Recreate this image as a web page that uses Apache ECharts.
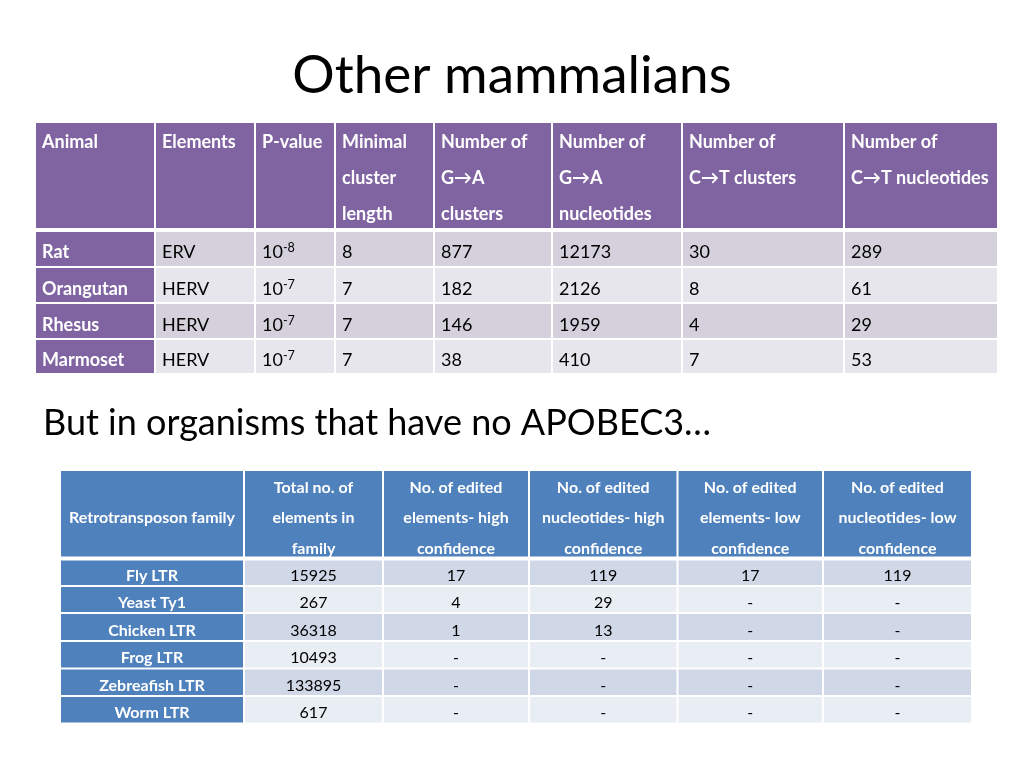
<!DOCTYPE html>
<html>
<head>
<meta charset="utf-8">
<script src="https://cdn.jsdelivr.net/npm/echarts@6/dist/echarts.min.js"></script>
<style>
html,body{margin:0;padding:0;background:#fff;}
#chart{width:1024px;height:768px;}
</style>
</head>
<body>
<div id="chart"></div>
<script>
// ---------- Data ----------
const titleText = 'Other mammalians';
const subtitleText = 'But in organisms that have no APOBEC3\u2026';

// Table 1
const headers1 = ['Animal', 'Elements', 'P-value', 'Minimal\ncluster\nlength', 'Number of\nG\u2192A\nclusters', 'Number of\nG\u2192A\nnucleotides', 'Number of\nC\u2192T clusters', 'Number of\nC\u2192T nucleotides'];
const animals = ['Rat', 'Orangutan', 'Rhesus', 'Marmoset'];
const elements = ['ERV', 'HERV', 'HERV', 'HERV'];
const pValueExponents = [-8, -7, -7, -7];
const minClusterLength = [8, 7, 7, 7];
const gaClusters = [877, 182, 146, 38];
const gaNucleotides = [12173, 2126, 1959, 410];
const ctClusters = [30, 8, 4, 7];
const ctNucleotides = [289, 61, 29, 53];

// Table 2
const headers2 = ['Retrotransposon family', 'Total no. of\nelements in\nfamily', 'No. of edited\nelements- high\nconfidence', 'No. of edited\nnucleotides- high\nconfidence', 'No. of edited\nelements- low\nconfidence', 'No. of edited\nnucleotides- low\nconfidence'];
const families = ['Fly LTR', 'Yeast Ty1', 'Chicken LTR', 'Frog LTR', 'Zebreafish LTR', 'Worm LTR'];
const totalElements = [15925, 267, 36318, 10493, 133895, 617];
const editedElementsHigh = [17, 4, 1, null, null, null];
const editedNucleotidesHigh = [119, 29, 13, null, null, null];
const editedElementsLow = [17, null, null, null, null, null];
const editedNucleotidesLow = [119, null, null, null, null, null];

// ---------- Layout (table geometry in axis units) ----------
const FONT = 'Lato, "Noto Sans", sans-serif';
const colEdges1 = [0, 120, 220, 300, 399, 517, 647, 809, 963];
const rowEdges1 = [0, 108, 145, 181, 217, 252];
const colEdges2 = [0, 184, 323, 469, 617.5, 763, 912];
const rowEdges2 = [0, 88.5, 116, 143, 171, 198.5, 226, 253.5];

const C = {
  purple: '#8064A2', p1: '#D4D1DC', p2: '#E8E6ED',
  blue: '#4F81BD', b1: '#D0D8E8', b2: '#E9EDF4'
};

function fmt(v) { return v === null || v === undefined ? '-' : String(v); }

// Build cell list for table 1
const cells1 = [];
headers1.forEach((h, c) => cells1.push({ c, r: 0, text: h, kind: 'head' }));
animals.forEach((a, i) => {
  const r = i + 1;
  const row = [a, elements[i], '10{sup|' + pValueExponents[i] + '}', minClusterLength[i], gaClusters[i], gaNucleotides[i], ctClusters[i], ctNucleotides[i]];
  row.forEach((v, c) => cells1.push({ c, r, text: String(v), kind: c === 0 ? 'first' : 'body' }));
});

// Build cell list for table 2
const cells2 = [];
headers2.forEach((h, c) => cells2.push({ c, r: 0, text: h, kind: 'head' }));
families.forEach((f, i) => {
  const r = i + 1;
  const row = [f, totalElements[i], editedElementsHigh[i], editedNucleotidesHigh[i], editedElementsLow[i], editedNucleotidesLow[i]];
  row.forEach((v, c) => cells2.push({ c, r, text: c === 0 ? v : fmt(v), kind: c === 0 ? 'first' : 'body' }));
});

function makeRender(cells, colEdges, rowEdges, cfg) {
  return function (params, api) {
    const cell = cells[params.dataIndex];
    const p0 = api.coord([colEdges[cell.c], rowEdges[cell.r]]);
    const p1 = api.coord([colEdges[cell.c + 1], rowEdges[cell.r + 1]]);
    let x = p0[0] + 1, y = p0[1] + 1, w = p1[0] - p0[0] - 2, h = p1[1] - p0[1] - 2;
    if (cell.r === 0) { h -= 1; }
    if (cell.r === 1) { y += 1; h -= 1; }
    let fill;
    if (cell.kind === 'head' || cell.kind === 'first') fill = cfg.dark;
    else fill = cell.r % 2 === 1 ? cfg.l1 : cfg.l2;
    const isWhite = cell.kind !== 'body';
    const bold = cell.kind !== 'body';
    let tx, ty, align, va;
    if (cfg.align === 'left') { tx = p0[0] + cfg.padX; align = 'left'; }
    else { tx = (p0[0] + p1[0]) / 2; align = 'center'; }
    if (cell.kind === 'head' && cfg.headTop) {
      ty = p0[1] + cfg.headTop; va = 'top';
    } else {
      ty = (p0[1] + p1[1]) / 2 + (cell.kind === 'head' ? cfg.headOffset : cfg.bodyOffset); va = 'middle';
    }
    return {
      type: 'group',
      children: [
        { type: 'rect', shape: { x, y, width: w, height: h }, style: { fill } },
        { type: 'text', style: {
            text: cell.text, x: tx, y: ty, align, verticalAlign: va,
            fill: isWhite ? '#fff' : '#000',
            fontFamily: FONT, fontSize: cfg.fontSize, fontWeight: bold ? 'bold' : 'normal',
            lineHeight: cell.kind === 'head' ? cfg.headLine : cfg.fontSize + 4,
            rich: { sup: { fontSize: cfg.fontSize * 0.7, fontFamily: FONT, fill: '#000', verticalAlign: 'top', lineHeight: cfg.fontSize * 0.8 } }
          } }
      ]
    };
  };
}

const chart = echarts.init(document.getElementById('chart'), null, { renderer: 'canvas' });
chart.setOption({
  backgroundColor: '#fff',
  animation: false,
  title: [
    { text: titleText, left: 'center', top: 44, textStyle: { fontFamily: FONT, fontSize: 53, fontWeight: 'normal', color: '#000' } },
    { text: subtitleText, left: 38, top: 400, textStyle: { fontFamily: FONT, fontSize: 36, fontWeight: 'normal', color: '#000' } }
  ],
  grid: [
    { left: 35, top: 122, width: 963, height: 252 },
    { left: 60, top: 470, width: 912, height: 253.5 }
  ],
  xAxis: [
    { type: 'value', gridIndex: 0, min: 0, max: 963, show: false },
    { type: 'value', gridIndex: 1, min: 0, max: 912, show: false }
  ],
  yAxis: [
    { type: 'value', gridIndex: 0, min: 0, max: 252, inverse: true, show: false },
    { type: 'value', gridIndex: 1, min: 0, max: 253.5, inverse: true, show: false }
  ],
  series: [
    {
      type: 'custom', xAxisIndex: 0, yAxisIndex: 0, clip: false,
      renderItem: makeRender(cells1, colEdges1, rowEdges1, { dark: C.purple, l1: C.p1, l2: C.p2, align: 'left', padX: 7, fontSize: 18, headLine: 36, headTop: 2, headOffset: 0, bodyOffset: 4 }),
      data: cells1.map(c => [colEdges1[c.c], rowEdges1[c.r]])
    },
    {
      type: 'custom', xAxisIndex: 1, yAxisIndex: 1, clip: false,
      renderItem: makeRender(cells2, colEdges2, rowEdges2, { dark: C.blue, l1: C.b1, l2: C.b2, align: 'center', padX: 0, fontSize: 16, headLine: 30.5, headTop: 0, headOffset: 4, bodyOffset: 3.5 }),
      data: cells2.map(c => [colEdges2[c.c], rowEdges2[c.r]])
    }
  ]
});
</script>
</body>
</html>
